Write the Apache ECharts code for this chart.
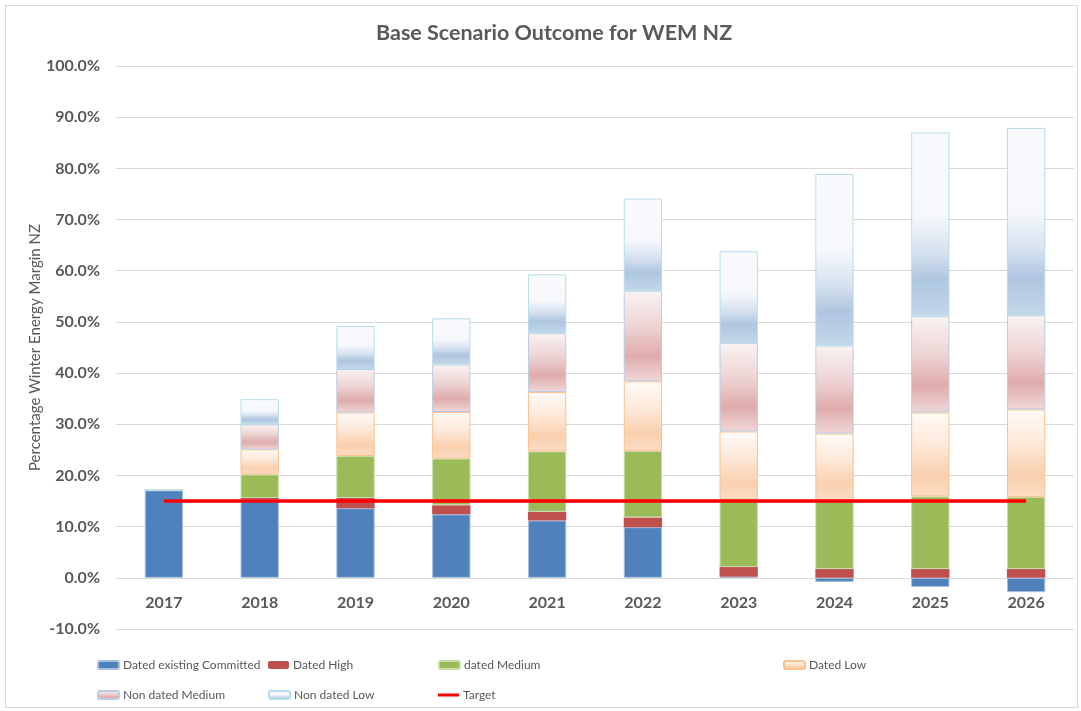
<!DOCTYPE html>
<html>
<head>
<meta charset="utf-8">
<script src="https://cdn.jsdelivr.net/npm/echarts@6/dist/echarts.min.js"></script>
<style>
  html, body { margin: 0; padding: 0; background: #fff; }
  #frame { position: absolute; left: 5px; top: 5px; width: 1073px; height: 703px; border: 1px solid #D9D9D9; box-sizing: border-box; }
  #main { position: absolute; left: 0; top: 0; width: 1081px; height: 711px; }
</style>
</head>
<body>
<div id="frame"></div>
<div id="main"></div>
<script>
var years = ['2017', '2018', '2019', '2020', '2021', '2022', '2023', '2024', '2025', '2026'];
var datedCommitted = [17.1, 15.4, 13.6, 12.4, 11.2, 9.9, 0.2, -0.8, -1.8, -2.8];
var datedHigh = [0, 0.2, 2.0, 1.8, 1.7, 1.9, 1.9, 1.7, 1.7, 1.7];
var datedMedium = [0, 4.6, 8.2, 9.1, 11.8, 13.0, 13.2, 13.4, 14.2, 14.1];
var datedLow = [0, 4.9, 8.5, 9.1, 11.6, 13.6, 13.3, 13.1, 16.4, 17.1];
var nonDatedMedium = [0, 4.9, 8.5, 9.3, 11.5, 17.7, 17.3, 17.2, 18.8, 18.4];
var nonDatedLow = [0, 4.9, 8.4, 9.0, 11.5, 18.0, 17.9, 33.5, 35.9, 36.6];
var target = [15, 15, 15, 15, 15, 15, 15, 15, 15, 15];

var font = 'Lato';
var grey = '#595959';

function grad(stops) {
    return new echarts.graphic.LinearGradient(0, 0, 0, 1, stops.map(function (s) {
        return { offset: s[0], color: s[1] };
    }));
}

// gradient fills like the excel ones
var lowFill = grad([[0, '#FFFAF6'], [0.35, '#FDEBDD'], [0.75, '#FAD0AE'], [1, '#FBDCC4']]);
var ndMedFill = grad([[0, '#FAF3F3'], [0.4, '#EDD3D3'], [0.72, '#E0ABAB'], [1, '#EFD7D8']]);
var ndLowFill = grad([[0, '#F8FAFD'], [0.45, '#F6F8FC'], [0.65, '#D6E1EF'], [0.8, '#AFC6E0'], [1, '#C3D7EA']]);

function legendAt(name, left, top, isLine) {
    return {
        left: left,
        top: top,
        data: isLine ? [{ name: name, icon: 'rect', itemStyle: { color: '#FF0000' } }] : [name],
        itemWidth: 21,
        itemHeight: isLine ? 3 : 8,
        itemGap: 4,
        textStyle: { fontFamily: font, fontSize: 12, color: grey, padding: [0, 0, 0, -1] },
        selectedMode: false
    };
}

function barSeries(name, data, color, border) {
    return {
        name: name,
        type: 'bar',
        stack: 'total',
        barWidth: '40%',
        data: data,
        itemStyle: {
            color: color,
            borderColor: border || color,
            borderWidth: border ? 1 : 0
        }
    };
}

var myChart = echarts.init(document.getElementById('main'));
var option = {
    animation: false,
    title: {
        text: 'Base Scenario Outcome for WEM NZ',
        left: 371,
        top: 17,
        textStyle: { fontFamily: font, fontSize: 21.5, fontWeight: 'bold', color: grey }
    },
    legend: [
        legendAt('Dated existing Committed', 92, 654),
        legendAt('Dated High', 263, 654),
        legendAt('dated Medium', 433, 654),
        legendAt('Dated Low', 778, 654),
        legendAt('Non dated Medium', 92, 684),
        legendAt('Non dated Low', 263, 684),
        legendAt('Target', 433, 684, true)
    ],
    grid: { left: 116, right: 7, top: 66, bottom: 82, containLabel: false },
    xAxis: {
        type: 'category',
        data: years,
        // labels sit under the 0% line, like excel
        offset: -51,
        axisLine: { show: false, onZero: false },
        axisTick: { show: false },
        axisLabel: { fontFamily: font, fontSize: 16, fontWeight: 'bold', color: grey, margin: 17 }
    },
    yAxis: {
        type: 'value',
        min: -10,
        max: 100,
        interval: 10,
        name: 'Percentage Winter Energy Margin NZ',
        nameLocation: 'middle',
        nameGap: 73,
        nameMoveOverlap: false,
        nameTextStyle: { fontFamily: font, fontSize: 15, color: grey },
        axisLine: { show: false },
        axisTick: { show: false },
        splitLine: { lineStyle: { color: '#D9D9D9', width: 1 } },
        axisLabel: {
            fontFamily: font, fontSize: 16, fontWeight: 'bold', color: grey, margin: 16,
            formatter: function (v) { return v.toFixed(1) + '%'; }
        }
    },
    series: [
        barSeries('Dated existing Committed', datedCommitted, '#4F81BD', '#A7C0DE'),
        barSeries('Dated High', datedHigh, '#C0504D'),
        barSeries('dated Medium', datedMedium, '#9BBB59', '#C9DBA8'),
        barSeries('Dated Low', datedLow, lowFill, '#FAC090'),
        barSeries('Non dated Medium', nonDatedMedium, ndMedFill, '#B9CDE5'),
        barSeries('Non dated Low', nonDatedLow, ndLowFill, '#B7DEE8'),
        {
            name: 'Target',
            type: 'line',
            data: target,
            symbol: 'none',
            z: 10,
            lineStyle: { color: '#FF0000', width: 3.5 },
            itemStyle: { color: '#FF0000' }
        }
    ]
};
myChart.setOption(option);
</script>
</body>
</html>
